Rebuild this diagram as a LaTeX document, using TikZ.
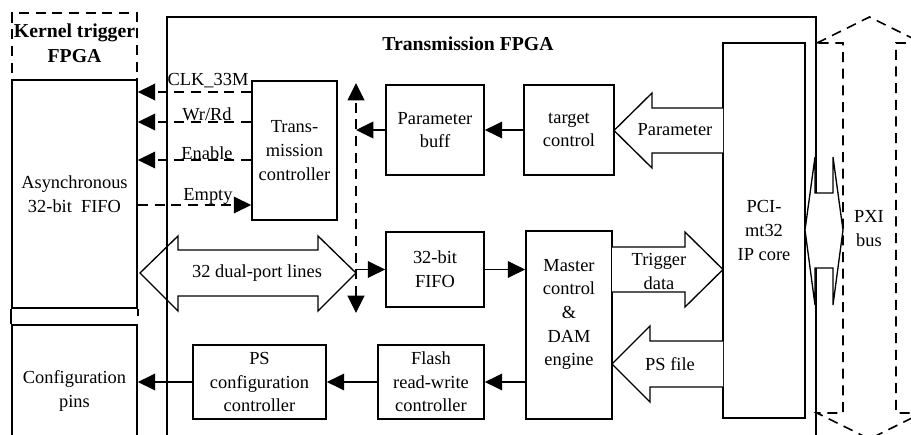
\documentclass[tikz,border=0pt]{standalone}
\usepackage{fontspec}
\setmainfont{Liberation Serif}
\usetikzlibrary{arrows.meta}
\newcommand\fnorm{\fontsize{13.8}{17.7}\selectfont}
\newcommand\fbig{\fontsize{14.8}{18.4}\selectfont\bfseries}
\begin{document}
\begin{tikzpicture}[x=0.75pt,y=-0.75pt,
  sz/.style 2 args={minimum width=#1*0.75pt, minimum height=#2*0.75pt},
  box/.style={draw, line width=1.3pt, inner sep=0pt, align=center, font=\fnorm},
  outer/.style={draw, line width=1.1pt, inner sep=0pt},
  dbox/.style={draw, line width=1.3pt, inner sep=0pt, dash pattern=on 7.5pt off 5pt},
  txt/.style={inner sep=0pt, align=center, font=\fnorm},
  ttl/.style={inner sep=0pt, align=center, font=\fbig},
  arr/.style={line width=1.1pt, -{Triangle[length=13pt,width=12.5pt]}},
  sig/.style={line width=1.2pt, dash pattern=on 7.5pt off 5pt, -{Triangle[length=13pt,width=12.5pt]}},
  vsig/.style={line width=1.2pt, dash pattern=on 7.5pt off 5pt, {Triangle[length=13pt,width=12.5pt]}-{Triangle[length=13pt,width=12.5pt]}},
  blk/.style={line width=1pt, line join=miter},
  dblk/.style={line width=1.2pt, dash pattern=on 7.5pt off 5pt},
]
\useasboundingbox (0,0) rectangle (911,435);
\begin{scope}
\clip (0,0) rectangle (911,435);
% outer FPGA frames
\node[outer, sz={649}{443}] (tfpga) at (491.5,238.5) {};
\node[ttl] (tfpgattl) at (468,43.5) {Transmission FPGA};
\node[dbox, sz={125}{67}] (kernel) at (74.5,46.5) {};
\node[ttl] (kernelttl) at (74.5,43) {Kernel trigger\\FPGA};

% PXI bus dashed double arrow
\draw[dblk, fill=white] (817,43) -- (869.5,17) -- (922,43) -- (896,43) -- (896,413) -- (922,413)
  -- (869.5,439) -- (817,413) -- (843,413) -- (843,43) -- cycle;
\node[txt] (pxi) at (869,228.5) {PXI\\bus};

% left boxes
\node[box, sz={125}{228}] (async) at (74.5,194) {Asynchronous\\32-bit~ FIFO};
\draw[line width=1.3pt] (async.south west) -- ++(0,15);
\draw[line width=1.3pt] (async.south east) -- ++(0,7);
\node[box, sz={125}{132}] (cfg) at (74.5,391) {Configuration\\pins};

% internal boxes
\node[box, sz={85}{139}] (trans) at (294.5,150.5) {Trans-\\mission\\controller};
\node[box, sz={98}{90}] (pbuff) at (435,130) {Parameter\\buff};
\node[box, sz={90}{90}] (target) at (569,130) {target\\control};
\node[box, sz={98}{75}] (fifo) at (435,269.5) {32-bit\\FIFO};
\node[box, sz={86}{188}] (master) at (569,325) {};
\node[txt] (mastertxt) at (569,314.5) {Master\\control\\\&\\DAM\\engine};
\node[box, sz={106}{74}] (flash) at (431,382) {Flash\\read-write\\controller};
\node[box, sz={133}{74}] (psconf) at (259.5,382) {PS\\configuration\\controller};
\node[box, sz={82}{375}] (pci) at (764,230.5) {PCI-\\mt32\\IP core};

% PCI <-> PXI small double arrow
\draw[blk, fill=white] (805,230) -- (815,157) -- (815,193) -- (833,193) -- (833,157) -- (843,230)
  -- (833,305) -- (833,268) -- (815,268) -- (815,305) -- cycle;

% signal lines
\coordinate (yclk) at (0,92);
\coordinate (ywr) at (0,122);
\coordinate (yen) at (0,160);
\coordinate (yemp) at (0,205);
\draw[sig] (trans.west |- yclk) -- (async.east |- yclk);
\draw[sig] (trans.west |- ywr) -- (async.east |- ywr);
\draw[sig] (trans.west |- yen) -- (async.east |- yen);
\draw[sig] (async.east |- yemp) -- (trans.west |- yemp);
\node[txt, anchor=base] (lclk) at (208,86) {CLK\_33M};
\node[txt, anchor=base] (lwr) at (207,121) {Wr/Rd};
\node[txt, anchor=base] (len) at (207,159) {Enable};
\node[txt, anchor=base] (lemp) at (208,200) {Empty};

% vertical dashed bus
\coordinate (vtop) at (356,83);
\coordinate (vbot) at (356,313);
\draw[vsig] (vbot) -- (vtop);

% 32 dual-port lines
\draw[blk] (140,273) -- (178,236) -- (178,250) -- (318,250) -- (318,236) -- (356,273)
  -- (318,311) -- (318,296) -- (178,296) -- (178,311) -- cycle;
\node[txt] (ldual) at (257,273) {32 dual-port lines};

% Parameter block arrow
\draw[blk, fill=white] (723,108) -- (652,108) -- (652,93) -- (614,130.5) -- (652,168) -- (652,153) -- (723,153);
\node[txt] (lparam) at (675,130) {Parameter};
% Trigger data block arrow
\draw[blk, fill=white] (612,247) -- (685,247) -- (685,232) -- (723,269.5) -- (685,307) -- (685,292) -- (612,292);
\node[txt] (ltrig) at (659,271.5) {Trigger\\data};
% PS file block arrow
\draw[blk, fill=white] (723,341) -- (650,341) -- (650,326) -- (612,364) -- (650,402) -- (650,387) -- (723,387);
\node[txt] (lps) at (670,364) {PS file};

% connectors
\draw[arr] (target.west) -- (pbuff.east);
\draw[arr] (pbuff.west) -- (pbuff.west -| vtop);
\draw[arr] (fifo.west -| vtop) -- (fifo.west);
\draw[arr] (fifo.east) -- (fifo.east -| master.west);
\draw[arr] (master.west |- flash.east) -- (flash.east);
\draw[arr] (flash.west) -- (psconf.east);
\draw[arr] (psconf.west) -- (psconf.west -| cfg.east);
\end{scope}
\end{tikzpicture}
\end{document}
